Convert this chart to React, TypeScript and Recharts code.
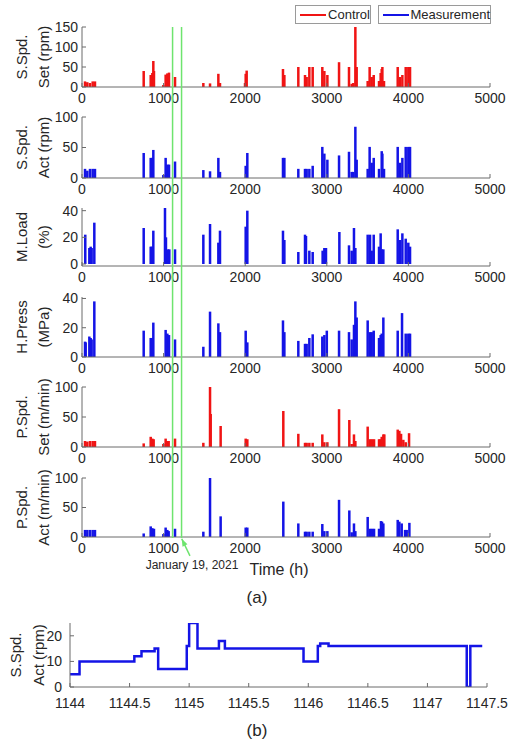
import React from "react";
import {
  BarChart,
  Bar,
  LineChart,
  Line,
  ComposedChart,
  XAxis,
  YAxis,
  ReferenceLine,
} from "recharts";

const FONT = "'Liberation Sans', Arial, Helvetica, sans-serif";
const RED = "#f01414";
const BLUE = "#1414e6";
const GREEN = "#6ee46e";
const AXIS = "#6a6a6a";
const TEXT = "#262626";

const hourTicks = [0, 1000, 2000, 3000, 4000, 5000];
const zoomTicks = [1144, 1144.5, 1145, 1145.5, 1146, 1146.5, 1147, 1147.5];

// [time (h), value]
const sSpdSet = [
  [37, 14], [65, 12], [98, 10], [131, 14], [159, 14],
  [756, 40], [842, 30], [862, 35], [874, 65], [882, 40],
  [997, 5], [1025, 31], [1046, 34], [1066, 36], [1140, 25],
  [1487, 10], [1569, 9], [1671, 33], [1691, 10],
  [1998, 10], [2006, 33], [2018, 41],
  [2463, 45], [2480, 30], [2651, 50], [2733, 30], [2753, 25], [2786, 50], [2827, 50],
  [2945, 50], [2970, 40], [3007, 30], [3150, 62],
  [3272, 50], [3305, 8], [3325, 10], [3350, 150], [3366, 50],
  [3501, 15], [3525, 50], [3550, 25], [3575, 30],
  [3640, 15], [3660, 35], [3673, 45], [3681, 50], [3701, 15],
  [3869, 50], [3897, 25], [3926, 30], [3967, 50], [3999, 50], [4020, 50],
];

const sSpdAct = [
  [37, 15], [65, 12], [98, 15], [131, 15], [159, 15],
  [756, 41], [842, 33], [862, 33], [874, 46],
  [997, 5], [1025, 33], [1046, 22], [1066, 22], [1140, 27],
  [1487, 13], [1569, 11], [1671, 33], [1691, 10],
  [2006, 20], [2026, 41],
  [2463, 33], [2480, 33],
  [2651, 15], [2733, 15], [2753, 15], [2786, 15], [2827, 20],
  [2945, 51], [2970, 40], [3007, 30], [3150, 37],
  [3272, 43], [3305, 10], [3325, 10], [3350, 84], [3366, 30],
  [3501, 15], [3525, 51], [3550, 25], [3575, 33],
  [3640, 15], [3673, 44], [3681, 40], [3701, 15],
  [3869, 51], [3897, 25], [3926, 33], [3967, 51], [3999, 51], [4020, 51],
];

const mLoad = [
  [40, 22], [90, 12], [106, 13], [118, 12], [151, 31],
  [756, 27], [842, 13], [854, 13], [874, 25],
  [1017, 42], [1029, 20], [1050, 11], [1070, 11], [1140, 11],
  [1487, 22], [1569, 30], [1671, 16], [1691, 25],
  [2006, 28], [2026, 40],
  [2463, 25], [2480, 18],
  [2651, 9], [2733, 22], [2745, 21], [2786, 10], [2827, 9],
  [2949, 10], [2970, 12], [2990, 12], [3154, 24],
  [3272, 14], [3305, 10], [3333, 27], [3350, 12],
  [3501, 22], [3530, 22], [3550, 10], [3575, 22],
  [3640, 13], [3660, 23], [3673, 11], [3693, 11],
  [3869, 26], [3897, 18], [3926, 23], [3967, 19], [3999, 16], [4020, 13],
];

const hPress = [
  [37, 10.5], [45, 10], [90, 14], [106, 13], [118, 12], [151, 38],
  [756, 18], [842, 13], [854, 13], [874, 23.5],
  [1025, 18.5], [1046, 16], [1066, 15], [1140, 12],
  [1487, 7], [1569, 31], [1671, 23], [1691, 17],
  [2006, 18], [2026, 10],
  [2463, 25], [2480, 17],
  [2651, 11], [2733, 9], [2753, 9], [2786, 13], [2827, 15.5],
  [2945, 14], [2970, 15], [3000, 18], [3150, 18],
  [3272, 17], [3305, 12], [3333, 22], [3350, 38], [3366, 27],
  [3501, 25], [3530, 17], [3550, 17], [3575, 18],
  [3640, 13], [3660, 15], [3673, 16], [3693, 27],
  [3869, 18], [3922, 30], [3967, 16], [3999, 16], [4020, 16],
];

const pSpdSet = [
  [37, 10], [65, 9], [98, 10], [131, 10], [159, 10],
  [756, 6], [842, 17], [862, 14], [878, 13],
  [997, 5], [1025, 14], [1046, 10], [1062, 10], [1140, 14],
  [1487, 7], [1569, 100], [1577, 55], [1699, 35],
  [2006, 14], [2026, 13],
  [2467, 60], [2651, 22],
  [2733, 7], [2753, 7], [2786, 7], [2827, 7],
  [2945, 21], [2970, 8], [3007, 8], [3150, 63],
  [3276, 45], [3305, 5], [3333, 21], [3350, 10],
  [3501, 34], [3530, 13], [3554, 13], [3579, 13],
  [3640, 13], [3660, 13], [3673, 17], [3693, 21], [3705, 21],
  [3869, 29], [3889, 27], [3910, 22], [3938, 12], [3967, 8], [4008, 23],
];

const pSpdAct = [
  [37, 12], [65, 12], [98, 12], [131, 12], [159, 12],
  [756, 6], [842, 18], [862, 15], [882, 14],
  [997, 5], [1025, 16], [1046, 12], [1062, 10], [1140, 14],
  [1487, 9], [1569, 100], [1699, 35],
  [2006, 16], [2026, 16],
  [2467, 60], [2651, 23],
  [2733, 9], [2753, 9], [2786, 9], [2827, 9],
  [2945, 22], [2970, 10], [3007, 10], [3150, 63],
  [3276, 45], [3305, 8], [3333, 23], [3350, 10],
  [3501, 34], [3530, 14], [3554, 14], [3579, 14],
  [3640, 14], [3664, 27], [3677, 26], [3693, 23],
  [3869, 29], [3889, 26], [3918, 23], [3959, 12], [3979, 12], [4012, 24],
];

// panel (b): spindle speed around January 19, 2021
const zoomHours = [
  1144, 1144.08, 1144.54, 1144.6, 1144.71, 1144.74, 1144.98, 1145.0, 1145.07,
  1145.25, 1145.3, 1145.96, 1146.08, 1146.1, 1146.17, 1147.33, 1147.36, 1147.46,
];
const zoomRpm = [5, 10, 12, 14, 15, 7, 16, 25, 15, 18, 15, 10, 16, 17, 16, 0, 16, 16];

const markerHours = [1110, 1220];

const PAD_TOP = 8;
const XAXIS_H = 22;

const tickStyle = { fill: TEXT, fontSize: 14, fontFamily: FONT };

const Spike = (props: any) => {
  const { x, y, width, height, fill } = props;
  if (!isFinite(x) || !isFinite(y) || !isFinite(height)) return null;
  const cx = x + (width || 0) / 2;
  return <rect x={cx - 1.25} y={y} width={2.5} height={Math.max(height, 0.5)} fill={fill} />;
};

const AxisTitle = ({ lines, xs, cy }: { lines: string[]; xs: number[]; cy: number }) => (
  <g>
    {lines.map((s, i) => (
      <text
        key={s}
        x={xs[i]}
        y={cy}
        transform={`rotate(-90 ${xs[i]} ${cy})`}
        textAnchor="middle"
        dominantBaseline="central"
        fontSize={15}
        fontFamily={FONT}
        fill={TEXT}
      >
        {s}
      </text>
    ))}
  </g>
);

const Arrow = (props: any) => {
  const { x1, y1, x2, y2 } = props;
  const a = Math.atan2(y2 - y1, x2 - x1);
  const len = 8;
  const p1 = `${x2 - len * Math.cos(a - 0.35)},${y2 - len * Math.sin(a - 0.35)}`;
  const p2 = `${x2 - len * Math.cos(a + 0.35)},${y2 - len * Math.sin(a + 0.35)}`;
  return (
    <g>
      <line x1={x1} y1={y1} x2={x2} y2={y2} stroke={GREEN} strokeWidth={1.5} />
      <polygon points={`${p1} ${x2},${y2} ${p2}`} fill={GREEN} />
    </g>
  );
};

interface PanelProps {
  top: number;
  plotH: number;
  data: number[][];
  color: string;
  domain: [number, number];
  ticks: number[];
  title: string[];
  children?: React.ReactNode;
}

const Panel = ({ top, plotH, data, color, domain, ticks, title, children }: PanelProps) => {
  const rows = data.map(([t, v]) => ({ t, v }));
  return (
    <div style={{ position: "absolute", left: 0, top: top - PAD_TOP }}>
      <BarChart
        width={515}
        height={PAD_TOP + plotH + XAXIS_H}
        data={rows}
        margin={{ top: PAD_TOP, right: 25, bottom: 0, left: 52 }}
      >
        <XAxis
          dataKey="t"
          type="number"
          domain={[0, 5000]}
          ticks={hourTicks}
          interval={0}
          allowDataOverflow
          height={XAXIS_H}
          tickSize={-4}
          tickMargin={10}
          stroke={AXIS}
          tick={tickStyle}
        />
        <XAxis
          xAxisId="top"
          orientation="top"
          type="number"
          domain={[0, 5000]}
          ticks={hourTicks}
          interval={0}
          height={0}
          tickSize={-4}
          tick={false}
          stroke={AXIS}
        />
        <YAxis
          type="number"
          domain={domain}
          ticks={ticks}
          interval={0}
          allowDataOverflow
          width={30}
          tickSize={-4}
          tickMargin={8}
          stroke={AXIS}
          tick={tickStyle}
          label={<AxisTitle lines={title} xs={[21, 43]} cy={PAD_TOP + plotH / 2} />}
        />
        <YAxis
          yAxisId="right"
          orientation="right"
          type="number"
          domain={domain}
          ticks={ticks}
          interval={0}
          width={0}
          tickSize={-4}
          tick={false}
          stroke={AXIS}
        />
        <Bar dataKey="v" fill={color} shape={<Spike />} isAnimationActive={false} />
        {children}
      </BarChart>
    </div>
  );
};

const ZoomPanel = () => {
  const rows = zoomHours.map((t, i) => ({ t, rpm: zoomRpm[i] }));
  const plotTop = 623;
  const plotH = 64;
  return (
    <div style={{ position: "absolute", left: 0, top: plotTop - PAD_TOP }}>
      <LineChart
        width={515}
        height={PAD_TOP + plotH + XAXIS_H + 4}
        data={rows}
        margin={{ top: PAD_TOP, right: 28, bottom: 4, left: 40 }}
      >
        <XAxis
          dataKey="t"
          type="number"
          domain={[1144, 1147.5]}
          ticks={zoomTicks}
          interval={0}
          allowDataOverflow
          height={XAXIS_H}
          tickSize={-4}
          tickMargin={15}
          stroke={AXIS}
          tick={tickStyle}
        />
        <XAxis
          xAxisId="top"
          orientation="top"
          type="number"
          domain={[1144, 1147.5]}
          ticks={zoomTicks}
          interval={0}
          height={0}
          tickSize={-4}
          tick={false}
          stroke={AXIS}
        />
        <YAxis
          type="number"
          domain={[0, 25]}
          ticks={[0, 10, 20]}
          interval={0}
          allowDataOverflow
          width={30}
          tickSize={-4}
          tickMargin={12}
          stroke={AXIS}
          tick={tickStyle}
          label={<AxisTitle lines={["S.Spd.", "Act (rpm)"]} xs={[15, 38]} cy={PAD_TOP + plotH / 2} />}
        />
        <YAxis
          yAxisId="right"
          orientation="right"
          type="number"
          domain={[0, 25]}
          ticks={[0, 10, 20]}
          interval={0}
          width={0}
          tickSize={-4}
          tick={false}
          stroke={AXIS}
        />
        <Line
          dataKey="rpm"
          type="stepAfter"
          stroke={BLUE}
          strokeWidth={2.5}
          dot={false}
          isAnimationActive={false}
        />
      </LineChart>
    </div>
  );
};

const Caption = ({ x, y, size, children }: { x: number; y: number; size: number; children: React.ReactNode }) => (
  <div
    style={{
      position: "absolute",
      left: x,
      top: y,
      transform: "translate(-50%, -50%)",
      fontFamily: FONT,
      fontSize: size,
      lineHeight: 1,
      color: TEXT,
      whiteSpace: "nowrap",
    }}
  >
    {children}
  </div>
);

const LegendBox = ({ left, width, color, text }: { left: number; width: number; color: string; text: string }) => (
  <div
    style={{
      position: "absolute",
      left,
      top: 5,
      width,
      height: 19,
      boxSizing: "border-box",
      border: "1px solid #9a9a9a",
      background: "#fff",
      display: "flex",
      alignItems: "center",
      paddingLeft: 4,
      fontFamily: FONT,
      fontSize: 13,
      color: TEXT,
    }}
  >
    <span style={{ display: "inline-block", width: 27, height: 2, background: color, marginRight: 2 }} />
    {text}
  </div>
);

export default function App() {
  const markerRows = markerHours.map((t) => ({ t, y: 0.5 }));
  return (
    <div style={{ position: "absolute", left: 0, top: 0, width: 515, height: 746, background: "#fff" }}>
      <Panel top={27} plotH={60} data={sSpdSet} color={RED} domain={[0, 150]} ticks={[0, 50, 100, 150]} title={["S.Spd.", "Set (rpm)"]} />
      <Panel top={117} plotH={61} data={sSpdAct} color={BLUE} domain={[0, 100]} ticks={[0, 50, 100]} title={["S.Spd.", "Act (rpm)"]} />
      <Panel top={208} plotH={58} data={mLoad} color={BLUE} domain={[-1.5, 42]} ticks={[0, 20, 40]} title={["M.Load", "(%)"]} />
      <Panel top={297} plotH={60} data={hPress} color={BLUE} domain={[0, 41]} ticks={[0, 20, 40]} title={["H.Press", "(MPa)"]} />
      <Panel top={387} plotH={60} data={pSpdSet} color={RED} domain={[0, 100]} ticks={[0, 50, 100]} title={["P.Spd.", "Set (m/min)"]} />
      <Panel top={478} plotH={59} data={pSpdAct} color={BLUE} domain={[0, 100]} ticks={[0, 50, 100]} title={["P.Spd.", "Act (m/min)"]}>
        <ReferenceLine
          segment={[{ x: 1323, y: -32 }, { x: 1222, y: -3 }]}
          ifOverflow="visible"
          shape={<Arrow />}
        />
      </Panel>

      <div style={{ position: "absolute", left: 0, top: 0, pointerEvents: "none" }}>
        <ComposedChart
          width={515}
          height={560}
          data={markerRows}
          margin={{ top: 27, right: 25, bottom: 22, left: 82 }}
        >
          <XAxis dataKey="t" type="number" domain={[0, 5000]} allowDataOverflow hide />
          <YAxis type="number" domain={[0, 1]} allowDataOverflow hide />
          <Line dataKey="y" stroke="none" dot={false} activeDot={false} isAnimationActive={false} />
          {markerHours.map((t) => (
            <ReferenceLine key={t} x={t} stroke={GREEN} strokeWidth={1.5} ifOverflow="visible" />
          ))}
        </ComposedChart>
      </div>

      <LegendBox left={295} width={76} color={RED} text="Control" />
      <LegendBox left={378} width={113} color={BLUE} text="Measurement" />

      <Caption x={192} y={565} size={12}>January 19, 2021</Caption>
      <Caption x={279} y={570} size={16}>Time (h)</Caption>
      <Caption x={257} y={597} size={17}>(a)</Caption>

      <ZoomPanel />
      <Caption x={257} y={730} size={17}>(b)</Caption>
    </div>
  );
}
